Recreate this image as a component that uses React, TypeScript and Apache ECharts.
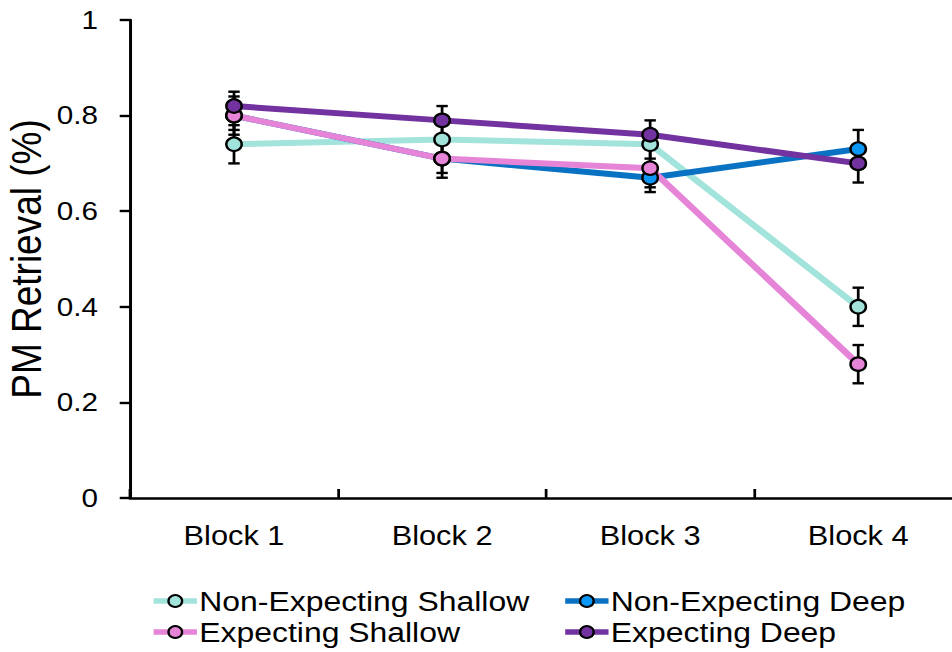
import React, { useEffect, useRef } from "react";
import * as echarts from "echarts";

const blocks = ["Block 1", "Block 2", "Block 3", "Block 4"];
const seriesNames = [
  "Non-Expecting Shallow",
  "Non-Expecting Deep",
  "Expecting Shallow",
  "Expecting Deep",
];
const nonExpShallow = [0.74, 0.75, 0.74, 0.4];
const nonExpShallowErr = [0.04, 0.03, 0.03, 0.04];
const nonExpDeep = [0.8, 0.71, 0.67, 0.73];
const nonExpDeepErr = [0.03, 0.04, 0.03, 0.04];
const expShallow = [0.8, 0.71, 0.69, 0.28];
const expShallowErr = [0.04, 0.03, 0.04, 0.04];
const expDeep = [0.82, 0.79, 0.76, 0.7];
const expDeepErr = [0.03, 0.03, 0.03, 0.04];
const yTicks = { min: 0, max: 1, interval: 0.2 };
const yTitle = "PM Retrieval (%)";

const lineColors = ["#a2e3db", "#0a72c2", "#e684d8", "#7232a0"];
const markerColors = ["#a2e3db", "#0a96f5", "#e684d8", "#7232a0"];

const FONT = "'Liberation Sans', Arial, sans-serif";

// The figure is laid out on a narrower canvas and widened horizontally.
const PAGE_W = 952;
const PAGE_H = 652;
const CHART_W = 835;
const STRETCH = PAGE_W / CHART_W;

const GRID = { left: 114, top: 20, width: 730, height: 478 };

export default function App() {
  const ref = useRef<HTMLDivElement>(null);

  useEffect(() => {
    if (!ref.current) return;
    const chart = echarts.init(ref.current, undefined, { renderer: "svg" });
    const means = [nonExpShallow, nonExpDeep, expShallow, expDeep];
    const errs = [nonExpShallowErr, nonExpDeepErr, expShallowErr, expDeepErr];

    const errorSeries = means.map((m, s) => ({
      type: "custom",
      name: seriesNames[s] + " error",
      z: 1,
      silent: true,
      data: m.map((v, i) => [i, v - errs[s][i], v + errs[s][i]]),
      renderItem: (_params: any, api: any) => {
        const lo = api.coord([api.value(0), api.value(1)]);
        const hi = api.coord([api.value(0), api.value(2)]);
        const hw = 5;
        const style = { stroke: "#000", lineWidth: 2.4 };
        return {
          type: "group",
          children: [
            { type: "line", shape: { x1: lo[0], y1: lo[1], x2: hi[0], y2: hi[1] }, style },
            { type: "line", shape: { x1: lo[0] - hw, y1: lo[1], x2: lo[0] + hw, y2: lo[1] }, style },
            { type: "line", shape: { x1: hi[0] - hw, y1: hi[1], x2: hi[0] + hw, y2: hi[1] }, style },
          ],
        };
      },
    }));

    const lineSeries = means.map((m, s) => ({
      type: "line",
      name: seriesNames[s],
      z: 3,
      data: m,
      symbol: "circle",
      symbolSize: 13.5,
      lineStyle: { color: lineColors[s], width: 6 },
      itemStyle: { color: markerColors[s], borderColor: "#000", borderWidth: 2.2 },
      emphasis: { disabled: true },
    }));

    const legendCommon = {
      orient: "vertical" as const,
      top: 587,
      padding: 0,
      itemGap: 3,
      itemWidth: 38,
      itemHeight: 15,
      lineStyle: { width: 5.5 },
      textStyle: { fontSize: 28, color: "#000", fontFamily: FONT, padding: [0, 0, 0, -3] },
    };

    chart.setOption({
      animation: false,
      grid: { ...GRID, containLabel: false, outerBoundsMode: "none" },
      graphic: [
        {
          type: "text",
          x: 23,
          y: GRID.top + GRID.height / 2,
          rotation: Math.PI / 2,
          style: {
            text: yTitle,
            font: `37px ${FONT}`,
            fill: "#000",
            textAlign: "center",
            textVerticalAlign: "middle",
          },
        },
      ],
      legend: [
        { ...legendCommon, left: 132, data: [seriesNames[0], seriesNames[2]] },
        { ...legendCommon, left: 493, data: [seriesNames[1], seriesNames[3]] },
      ],
      xAxis: {
        type: "category",
        data: blocks,
        boundaryGap: true,
        axisLine: { lineStyle: { color: "#000", width: 2.6 } },
        axisTick: { show: true, inside: true, length: 9, interval: 0, lineStyle: { color: "#000", width: 2.4 } },
        axisLabel: { fontSize: 27, color: "#000", fontFamily: FONT, margin: 24 },
      },
      yAxis: {
        type: "value",
        min: yTicks.min,
        max: yTicks.max,
        interval: yTicks.interval,
        axisLine: { show: true, lineStyle: { color: "#000", width: 2.6 } },
        axisTick: { show: true, length: 9, lineStyle: { color: "#000", width: 2.4 } },
        splitLine: { show: false },
        axisLabel: { fontSize: 26, color: "#000", fontFamily: FONT, margin: 28 },
      },
      series: [...errorSeries, ...lineSeries],
    });

    return () => chart.dispose();
  }, []);

  return (
    <div
      style={{
        position: "fixed",
        left: 0,
        top: 0,
        width: PAGE_W,
        height: PAGE_H,
        overflow: "hidden",
        background: "#fff",
      }}
    >
      <div
        ref={ref}
        style={{
          width: CHART_W,
          height: PAGE_H,
          transform: `scaleX(${STRETCH})`,
          transformOrigin: "0 0",
        }}
      />
    </div>
  );
}
